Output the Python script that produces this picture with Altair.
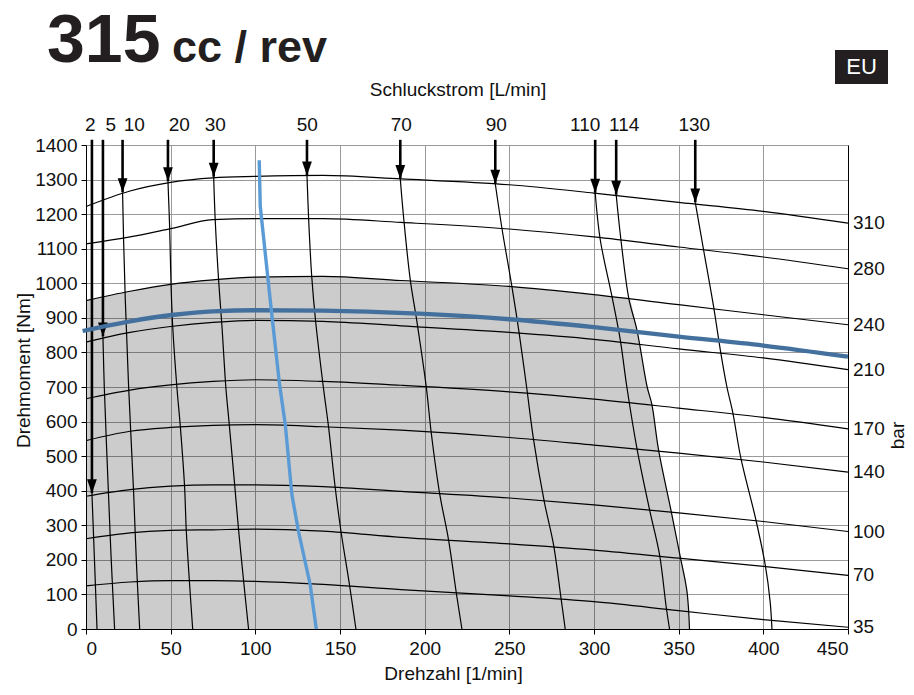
import altair as alt
import pandas as pd

# ---------------- data ----------------
# pressure curves (bar): torque [Nm] at these speeds [1/min]
speed_grid = [0, 26, 50, 75, 100, 140, 186, 250, 300, 350, 400, 450]
bar_levels = [35, 70, 100, 140, 170, 210, 240, 280, 310]
torque_35 = [125, 136, 140, 140, 138, 129, 114, 96, 79, 53, 27, 5]
torque_70 = [261, 278, 285, 287, 289, 283, 265, 246, 228, 205, 181, 155]
torque_100 = [384, 403, 413, 417, 417, 412, 398, 379, 359, 336, 311, 282]
torque_140 = [545, 572, 583, 589, 591, 585, 575, 554, 532, 509, 483, 454]
torque_170 = [666, 691, 706, 716, 721, 716, 705, 686, 665, 639, 612, 579]
torque_210 = [830, 858, 875, 887, 893, 890, 877, 858, 838, 810, 784, 750]
torque_240 = [950, 977, 997, 1010, 1018, 1020, 1008, 991, 967, 938, 909, 880]
torque_280 = [1114, 1134, 1158, 1184, 1187, 1187, 1176, 1157, 1134, 1105, 1076, 1042]
torque_310 = [1222, 1267, 1292, 1305, 1309, 1312, 1302, 1285, 1261, 1234, 1208, 1174]
pressure_torques = [torque_35, torque_70, torque_100, torque_140, torque_170,
                    torque_210, torque_240, torque_280, torque_310]

# flow curves (L/min): speed [1/min] and torque [Nm] along each curve, from arrow tip down
flow_levels = [2, 5, 10, 20, 30, 50, 70, 90, 110, 114, 130]
flow_2_speed = [3.5, 5.0, 6.5]
flow_2_torque = [393, 200, 0]
flow_5_speed = [10.0, 10.8, 13.2, 14.9, 16.9]
flow_5_torque = [846, 700, 400, 200, 0]
flow_10_speed = [21.6, 22.2, 23.2, 25.2, 28.1, 29.7, 31.7]
flow_10_torque = [1263, 1126, 953, 698, 398, 200, 0]
flow_20_speed = [48.4, 49.4, 50.2, 51.2, 53.7, 55.7, 58.2, 59.2, 61.2, 63.0]
flow_20_torque = [1295, 1161, 998, 875, 698, 586, 413, 287, 128, 0]
flow_30_speed = [75.4, 76.3, 78.3, 80.3, 82.6, 84.6, 87.8, 90.1, 93.1, 96.0]
flow_30_torque = [1308, 1184, 1010, 875, 698, 592, 417, 287, 138, 0]
flow_50_speed = [130.5, 131.5, 133.3, 135.6, 140.2, 143.2, 147.2, 150.6, 155.6, 159.4]
flow_50_torque = [1312, 1184, 1020, 890, 698, 586, 408, 282, 128, 0]
flow_70_speed = [185.6, 187.5, 191.5, 195.4, 200.9, 203.9, 208.8, 214.1, 218.7, 222.0]
flow_70_torque = [1302, 1194, 1010, 890, 702, 567, 393, 258, 104, 0]
flow_90_speed = [241.7, 245.6, 251.5, 255.8, 260.2, 264.3, 270.6, 276.1, 280.5, 283.0]
flow_90_torque = [1288, 1160, 991, 856, 700, 548, 369, 244, 90, 0]
flow_110_speed = [300.7, 303.7, 310.6, 315.5, 319.4, 325.3, 332.8, 338.7, 342.6, 344.6]
flow_110_torque = [1262, 1126, 962, 837, 700, 524, 345, 215, 65, 0]
flow_114_speed = [313.1, 315.9, 320.6, 325.3, 331.4, 334.2, 338.1, 345.6, 350.9, 354.9, 356.4]
flow_114_torque = [1256, 1126, 955, 866, 700, 649, 519, 340, 210, 109, 0]
flow_130_speed = [359.8, 364.7, 370.6, 374.9, 378.5, 382.0, 386.7, 395.6, 401.1, 404.0, 405.1]
flow_130_torque = [1234, 1097, 933, 798, 700, 625, 495, 316, 186, 80, 0]
flow_speeds = [flow_2_speed, flow_5_speed, flow_10_speed, flow_20_speed, flow_30_speed,
               flow_50_speed, flow_70_speed, flow_90_speed, flow_110_speed,
               flow_114_speed, flow_130_speed]
flow_torques = [flow_2_torque, flow_5_torque, flow_10_torque, flow_20_torque,
                flow_30_torque, flow_50_torque, flow_70_torque, flow_90_torque,
                flow_110_torque, flow_114_torque, flow_130_torque]
flow_label_speed = [2.5, 14.6, 28.5, 55.1, 76.3, 130.7, 186.2, 242.3, 294.8, 317.8, 359.2]
shaft_top_torque = 1415

# corner of the continuous-duty region (240 bar curve meets the 114 L/min curve)
region_corner_speed = 320.6
region_corner_torque = 955

# max torque curve (dark blue) and light blue curve
maxtorque_speed = [-2, 26, 52, 75, 100, 140, 197, 250, 300, 350, 400, 450]
maxtorque_torque = [862, 890, 909, 919, 922, 921, 912, 896, 873, 846, 820, 788]
lightblue_speed = [102.3, 102.9, 109.2, 114.3, 117.7, 121.6, 125.5, 132.4, 136.0]
lightblue_torque = [1356, 1223, 933, 707, 591, 388, 282, 128, 0]

x_ticks = list(range(0, 451, 50))
y_ticks = list(range(0, 1401, 100))

# ---------------- tables ----------------
pressure_df = pd.DataFrame(
    [{"speed": s, "torque": t, "bar": b}
     for b, ts in zip(bar_levels, pressure_torques)
     for s, t in zip(speed_grid, ts)]
)
pressure_end = pd.DataFrame(
    [{"speed": speed_grid[-1], "torque": ts[-1], "bar": str(b)}
     for b, ts in zip(bar_levels, pressure_torques)]
)
flow_df = pd.DataFrame(
    [{"speed": s, "torque": t, "flow": f, "order": i}
     for f, ss, ts in zip(flow_levels, flow_speeds, flow_torques)
     for i, (s, t) in enumerate(zip(ss, ts))]
)
shaft_df = pd.DataFrame(
    [{"flow": f, "speed": ss[0], "tip": ts[0], "top": shaft_top_torque}
     for f, ss, ts in zip(flow_levels, flow_speeds, flow_torques)]
)
flow_label_df = pd.DataFrame({"speed": flow_label_speed, "label": [str(f) for f in flow_levels]})

region_pts = [(s, t) for s, t in zip(speed_grid, torque_240) if s < region_corner_speed]
region_pts.append((region_corner_speed, region_corner_torque))
region_pts += [(s, t) for s, t in zip(flow_114_speed, flow_114_torque) if t < region_corner_torque]
region_df = pd.DataFrame(region_pts, columns=["speed", "torque"])

maxtorque_df = pd.DataFrame({"speed": maxtorque_speed, "torque": maxtorque_torque})
lightblue_df = pd.DataFrame({"speed": lightblue_speed, "torque": lightblue_torque})

# ---------------- chart ----------------
FONT = "Liberation Sans"
xscale = alt.Scale(domain=[0, 450], nice=False, zero=False)
yscale = alt.Scale(domain=[0, 1400], nice=False, zero=False)

x_axis = alt.Axis(values=x_ticks, format="d", title="Drehzahl [1/min]", titleX=367, titleY=44,
                  titleAngle=0, titleBaseline="middle", titleAlign="center",
                  labelPadding=5, tickSize=5)
y_axis = alt.Axis(values=y_ticks, format="d", title="Drehmoment [Nm]", titleX=-63, titleY=225,
                  titleAngle=270, titleBaseline="middle", titleAlign="center",
                  labelPadding=4, tickSize=5)
y_axis_right = alt.Axis(orient="right", labels=False, ticks=False, grid=False,
                        title="bar", titleX=49, titleY=290, titleAngle=270,
                        titleBaseline="middle", titleAlign="center")

def X():
    return alt.X("speed:Q", scale=xscale, axis=x_axis)

def Y(field="torque:Q", axis=None):
    return alt.Y(field, scale=yscale, axis=axis)

region = alt.Chart(region_df).mark_area(
    color="black", opacity=0.2, interpolate="monotone"
).encode(x=X(), y=Y(axis=y_axis))

pressure = alt.Chart(pressure_df).mark_line(
    color="black", strokeWidth=1.2, interpolate="monotone"
).encode(x=X(), y=Y(), detail="bar:N")

flows = alt.Chart(flow_df).mark_line(
    color="black", strokeWidth=1.2, interpolate="catmull-rom"
).encode(x=X(), y=Y(), detail="flow:N", order="order:Q")

shafts = alt.Chart(shaft_df).mark_rule(color="black", strokeWidth=2.6).encode(
    x=X(), y=Y("tip:Q"), y2="top:Q"
)

arrows = alt.Chart(shaft_df).mark_point(
    shape="M-0.7,-2L0.7,-2L0,0Z", filled=True, color="black", opacity=1,
    size=196, strokeWidth=0
).encode(x=X(), y=Y("tip:Q"))

maxtorque = alt.Chart(maxtorque_df).mark_line(
    color="#44709d", strokeWidth=4.3, interpolate="monotone"
).encode(x=X(), y=Y())

lightblue = alt.Chart(lightblue_df).mark_line(
    color="#5b9bd5", strokeWidth=3.4
).encode(x=X(), y=Y())

bar_labels = alt.Chart(pressure_end).mark_text(
    align="left", baseline="middle", dx=5, fontSize=19, font=FONT, color="#111"
).encode(x=X(), y=Y(axis=y_axis_right), text="bar:N")

flow_labels = alt.Chart(flow_label_df).mark_text(
    align="center", baseline="middle", fontSize=19, font=FONT, color="#111"
).encode(x=X(), y=alt.value(-20), text="label:N")

one = pd.DataFrame({"k": [0]})
title_num = alt.Chart(one).mark_text(
    text="315", align="left", baseline="alphabetic", fontSize=68,
    fontWeight="bold", font=FONT, color="#231f20"
).encode(x=alt.value(-39), y=alt.value(-83))
title_unit = alt.Chart(one).mark_text(
    text="cc / rev", align="left", baseline="alphabetic", fontSize=45,
    fontWeight="bold", font=FONT, color="#231f20"
).encode(x=alt.value(86), y=alt.value(-83))
eu_box = alt.Chart(one).mark_rect(color="#231f20").encode(
    x=alt.value(749), x2=alt.value(802), y=alt.value(-95), y2=alt.value(-61)
)
eu_text = alt.Chart(one).mark_text(
    text="EU", align="center", baseline="middle", fontSize=22, font=FONT, color="white"
).encode(x=alt.value(775.5), y=alt.value(-78))
top_title = alt.Chart(one).mark_text(
    text="Schluckstrom [L/min]", align="center", baseline="middle", fontSize=19,
    font=FONT, color="#111"
).encode(x=alt.value(372), y=alt.value(-55))

chart = alt.layer(
    region, pressure, flows, shafts, arrows, maxtorque, lightblue,
    bar_labels, flow_labels, title_num, title_unit, eu_box, eu_text, top_title
).resolve_axis(y="independent").properties(
    width=762, height=484,
    padding={"left": 78, "top": 137, "right": 58, "bottom": 58},
    autosize=alt.AutoSizeParams(type="none"),
    background="white",
).configure_view(stroke=None).configure_axis(
    labelFont=FONT, titleFont=FONT, labelFontSize=19, titleFontSize=19,
    labelColor="#111", titleColor="#111", titleFontWeight="normal",
    domainColor="black", domainWidth=1, tickColor="black", tickWidth=1,
    gridColor="#9a9a9a", gridWidth=1
)

chart.save("out.html", embed_options={"renderer": "svg", "actions": False})
